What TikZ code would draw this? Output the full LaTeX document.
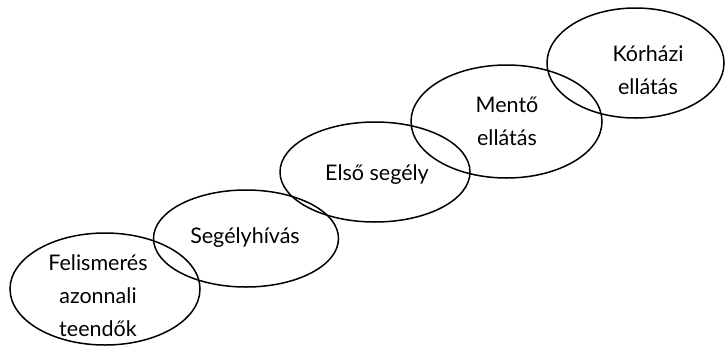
\documentclass[tikz,border=0pt]{standalone}
\usepackage{fontspec}
\setmainfont{Lato}
\usetikzlibrary{shapes.geometric,positioning}

\tikzset{
  stage/.style={draw, ellipse, line width=1.5pt, inner sep=0pt},
  lbl/.style={align=center, font=\fontsize{21.5}{33}\selectfont}
}

\begin{document}
\begin{tikzpicture}[x=1pt, y=-1pt]
	\useasboundingbox (0,0) rectangle (725,346);
	
	% the five steps
	\node[stage, minimum width=190, minimum height=112] (felis) at (105,289) {};
	\node[stage, minimum width=185, minimum height=97] (hivas) at (246,238.5) {};
	\node[stage, minimum width=190, minimum height=100] (elso) at (375,172) {};
	\node[stage, minimum width=191, minimum height=113] (mento) at (506.5,121.5) {};
	\node[stage, minimum width=177, minimum height=110] (korhaz) at (635.5,63) {};
	
	% labels
	\node[lbl] (felist) at (98,296) {Felismerés\\azonnali\\teendők};
	\node[lbl] (hivast) at (245,238) {Segélyhívás};
	\node[lbl] (elsot) at (377,175) {Első segély};
	\node[lbl] (mentot) at (507,121) {Mentő\\ellátás};
	\node[lbl] (korhazt) at (648,70) {Kórházi\\ellátás};
\end{tikzpicture}
\end{document}
